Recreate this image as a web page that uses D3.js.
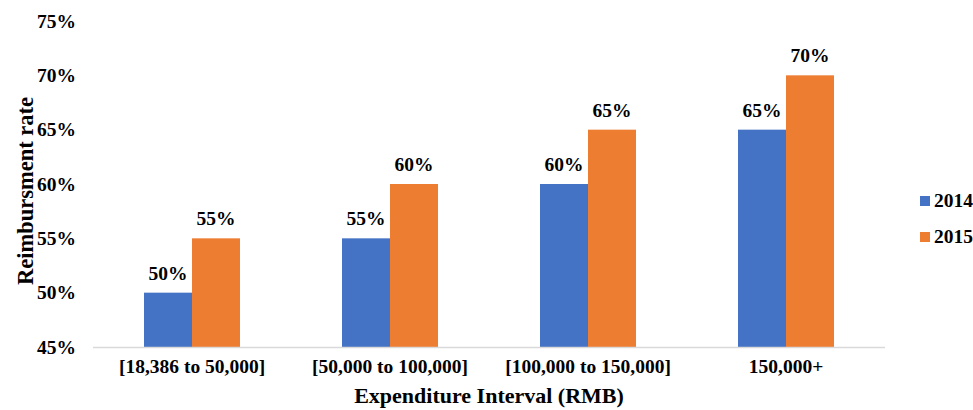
<!DOCTYPE html>
<head>
  <meta charset="utf-8">
  <script src="https://d3js.org/d3.v7.min.js"></script>
  <style>
    body { margin: 0; background: #fff; }
  </style>
</head>
<body>
  <svg id="chart" width="973" height="410"></svg>
  <script>
    var categories = ["[18,386 to 50,000]", "[50,000 to 100,000]", "[100,000 to 150,000]", "150,000+"];
    var seriesNames = ["2014", "2015"];
    var values2014 = [0.50, 0.55, 0.60, 0.65];
    var values2015 = [0.55, 0.60, 0.65, 0.70];
    var yTicks = [0.45, 0.50, 0.55, 0.60, 0.65, 0.70, 0.75];
    var colors = ["#4472C4", "#ED7D31"];

    var FONT = "'Liberation Serif', 'Times New Roman', 'DejaVu Serif', serif";

    var svg = d3.select("#chart");
    var plotLeft = 93, plotRight = 885, plotTop = 21, plotBottom = 347;

    var x0 = d3.scaleBand().domain(categories).range([plotLeft, plotRight]);
    var x1 = d3.scaleBand().domain(seriesNames).range([0, 96]);
    var y = d3.scaleLinear().domain([0.45, 0.75]).range([plotBottom, plotTop]);
    var pct = d3.format(".0%");

    var rows = categories.map(function(c, i) {
      return { cat: c, vals: [values2014[i], values2015[i]] };
    });

    function styleText(sel, size) {
      sel.attr("font-family", FONT)
         .style("font-family", FONT)
         .attr("font-weight", "bold")
         .attr("font-size", size)
         .attr("fill", "#000");
    }

    // y tick labels, no axis line
    var yAxis = svg.append("g")
        .attr("transform", "translate(76,0)")
        .call(d3.axisLeft(y).tickValues(yTicks).tickFormat(pct).tickSize(0).tickPadding(0));
    yAxis.select(".domain").remove();
    yAxis.attr("font-family", FONT);
    styleText(yAxis.selectAll("text"), "19.5px");

    var groups = svg.append("g").selectAll("g")
      .data(rows)
      .enter().append("g")
        .attr("transform", function(d) { return "translate(" + (x0(d.cat) + x0.bandwidth() / 2 - 48) + ",0)"; });

    groups.selectAll("rect")
      .data(function(d) { return d.vals.map(function(v, j) { return { s: seriesNames[j], v: v, j: j }; }); })
      .enter().append("rect")
        .attr("x", function(d) { return x1(d.s); })
        .attr("y", function(d) { return y(d.v); })
        .attr("width", x1.bandwidth())
        .attr("height", function(d) { return plotBottom - y(d.v); })
        .attr("fill", function(d) { return colors[d.j]; });

    var vals = groups.selectAll("text.val")
      .data(function(d) { return d.vals.map(function(v, j) { return { s: seriesNames[j], v: v }; }); })
      .enter().append("text")
        .attr("class", "val")
        .attr("x", function(d) { return x1(d.s) + x1.bandwidth() / 2; })
        .attr("y", function(d) { return y(d.v) - 13; })
        .attr("text-anchor", "middle")
        .text(function(d) { return pct(d.v); });
    styleText(vals, "19.5px");

    // baseline
    svg.append("line")
        .attr("x1", plotLeft).attr("x2", plotRight)
        .attr("y1", plotBottom + 0.5).attr("y2", plotBottom + 0.5)
        .attr("stroke", "#d9d9d9").attr("stroke-width", 1.5);

    var xAxis = svg.append("g")
        .attr("transform", "translate(0," + plotBottom + ")")
        .call(d3.axisBottom(x0).tickSize(0).tickPadding(12));
    xAxis.select(".domain").remove();
    xAxis.attr("font-family", FONT);
    styleText(xAxis.selectAll("text"), "19.5px");

    var xTitle = svg.append("text")
        .attr("x", (plotLeft + plotRight) / 2)
        .attr("y", 403)
        .attr("text-anchor", "middle")
        .text("Expenditure Interval (RMB)");
    styleText(xTitle, "22px");

    var yTitle = svg.append("text")
        .attr("transform", "translate(33," + ((plotTop + plotBottom) / 2 + 7) + ") rotate(-90)")
        .attr("text-anchor", "middle")
        .text("Reimbursment rate");
    styleText(yTitle, "22.5px");

    var legend = svg.append("g").selectAll("g")
      .data(seriesNames)
      .enter().append("g")
        .attr("transform", function(d, i) { return "translate(920," + (196 + i * 36) + ")"; });
    legend.append("rect")
        .attr("width", 10).attr("height", 10)
        .attr("fill", function(d, i) { return colors[i]; });
    var legText = legend.append("text")
        .attr("x", 14).attr("y", 11)
        .text(function(d) { return d; });
    styleText(legText, "19.5px");
  </script>
</body>
</html>
